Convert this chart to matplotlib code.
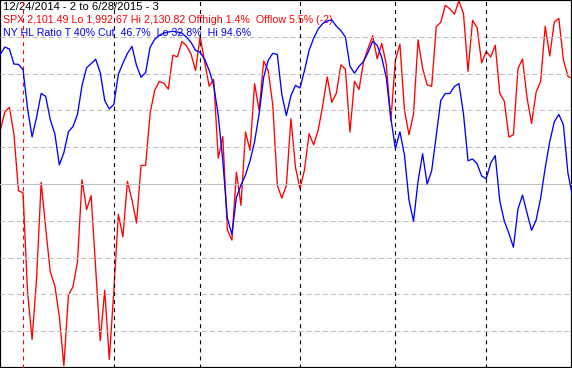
import matplotlib
matplotlib.use("Agg")
import matplotlib.pyplot as plt

# SPX daily closes 12/24/2014 .. 6/26/2015
spx = [2081.88, 2088.77, 2090.57, 2080.35, 2058.90,
       2058.20, 2020.58, 2002.61, 2025.90, 2062.14, 2044.81, 2028.26, 2023.03, 2011.27, 1992.67,
       2019.42, 2022.55, 2032.12, 2063.15, 2051.82, 2057.09, 2029.55, 2002.16, 2021.25, 1994.99,
       2020.85, 2050.03, 2041.51, 2062.52, 2055.47, 2046.74, 2068.59, 2068.53, 2088.48, 2096.99,
       2100.34, 2099.68, 2097.45, 2110.30, 2109.66, 2115.48, 2113.86, 2110.74, 2104.50,
       2117.39, 2107.78, 2098.53, 2101.04, 2071.26, 2079.43, 2044.16, 2040.24, 2065.95, 2053.40,
       2081.19, 2074.28, 2099.50, 2089.27, 2108.10, 2104.42, 2091.50, 2061.05, 2056.15, 2061.02,
       2086.24, 2067.89,
       2059.69, 2066.96, 2080.62, 2076.33, 2081.90, 2091.18, 2102.06, 2092.43, 2095.84, 2106.63,
       2104.99, 2081.18, 2100.40, 2097.29, 2107.96, 2112.93, 2117.69, 2108.92, 2114.76, 2106.85,
       2085.51,
       2108.29, 2114.49, 2089.46, 2080.15, 2088.00, 2116.10, 2105.33, 2099.12, 2098.48, 2121.10,
       2122.73, 2129.20, 2127.83, 2125.85, 2130.82, 2126.06, 2104.20, 2123.48, 2120.79, 2107.39,
       2111.73, 2109.60, 2114.07, 2095.84, 2092.83, 2079.28, 2080.15, 2105.20, 2108.86, 2094.11,
       2084.43, 2096.29, 2100.44, 2121.24, 2109.99, 2122.85, 2124.20, 2108.58, 2102.31, 2101.49]

# NY HL ratio (%)
hl = [85.2, 87.2, 86.7, 82.6, 82.5,
      81.1, 70.5, 62.8, 68.2, 74.6, 73.8, 67.5, 63.7, 55.2, 58.5,
      64.2, 65.6, 68.9, 76.8, 81.6, 82.7, 83.9, 80.3, 72.7, 70.4,
      71.6, 79.8, 82.8, 85.5, 87.4, 82.2, 79.0, 80.3, 87.2, 89.3,
      90.4, 91.0, 91.3, 91.5, 91.3, 91.0, 89.9, 88.5, 86.3,
      85.8, 83.9, 80.9, 76.8, 68.6, 56.3, 40.7, 36.3, 46.4, 49.7,
      52.5, 56.3, 61.5, 69.1, 79.0, 83.6, 85.5, 85.2, 74.3, 68.6,
      74.0, 76.8,
      76.1, 80.9, 86.3, 89.6, 92.1, 93.6, 94.3, 94.6, 92.9, 91.7,
      89.9, 82.0, 80.1, 82.0, 83.3, 85.8, 88.8, 87.7, 84.4, 78.9,
      68.0,
      59.6, 64.2, 57.9, 45.6, 39.9, 50.8, 58.2, 50.0, 53.6, 63.1,
      72.7, 74.6, 74.6, 76.5, 77.3, 69.1, 56.3, 56.8, 55.5, 52.2,
      51.4, 55.7, 57.7, 45.4, 39.9, 36.6, 32.8, 43.2, 47.0, 42.1,
      37.4, 40.2, 46.2, 54.4, 61.5, 66.9, 68.9, 66.1, 53.0, 46.7]

# first trading day of each month (index into the series)
month_starts = [5, 25, 44, 66, 87, 107]
grid_levels = [10, 20, 30, 40, 60, 70, 80, 90]

# header lines: text, colour, baseline px, width px in the reference
header = [
    ("12/24/2014 - 2 to 6/28/2015 - 3", 'black', 10, 155),
    ("SPX 2,101.49 Lo 1,992.67 Hi 2,130.82 Offhigh 1.4%  Offlow 5.5% (-2)", '#ff0000', 23, 330),
    ("NY HL Ratio T 40% Cut  46.7%  Lo 32.8%  Hi 94.6%", '#0000ff', 36.5, 247),
]

plt.rcParams['lines.scale_dashes'] = False
plt.rcParams['font.family'] = ['Liberation Sans', 'DejaVu Sans']

W, H = 572, 368
fig = plt.figure(figsize=(W / 100, H / 100), dpi=100)
ax = fig.add_axes([0, 0, 1, 1])
x = list(range(len(spx)))

ax.set_xlim(-0.066, 125.9)
ax.set_ylim(1991.8, 2131.2)
ax.set_xticks([])
ax.set_yticks([])
for s in ax.spines.values():
    s.set_linewidth(1.6)
    s.set_color('black')
    s.set_zorder(10)

# text sits behind the lines; size each line to the reference width
renderer = fig.canvas.get_renderer()
for txt, col, base, width in header:
    t = ax.text(3 / W, 1 - base / H, txt, transform=ax.transAxes, fontsize=8.2,
                color=col, zorder=0.5)
    w = t.get_window_extent(renderer).width
    t.set_fontsize(8.2 * width / w)

# ratio scale (0..100) on a twin axis
ax2 = ax.twinx()
ax2.set_ylim(0, 100)
ax2.set_yticks([])
for s in ax2.spines.values():
    s.set_visible(False)

for g in grid_levels:
    ax2.axhline(g, color='#c0c0c0', lw=0.75, ls=(0, (3.6, 2.2)), zorder=1)
ax2.axhline(50, color='#c0c0c0', lw=0.75, zorder=1)

for k, m in enumerate(month_starts):
    ax2.axvline(m, color='#ff0000' if k == 0 else 'black', lw=0.8,
                ls=(0, (2.9, 2.9)), zorder=1)

ax.plot(x, spx, color='#ff0000', lw=0.95, zorder=2)
ax2.plot(x, hl, color='#0000ff', lw=0.95, zorder=3)

fig.savefig("out.png", dpi=100)
